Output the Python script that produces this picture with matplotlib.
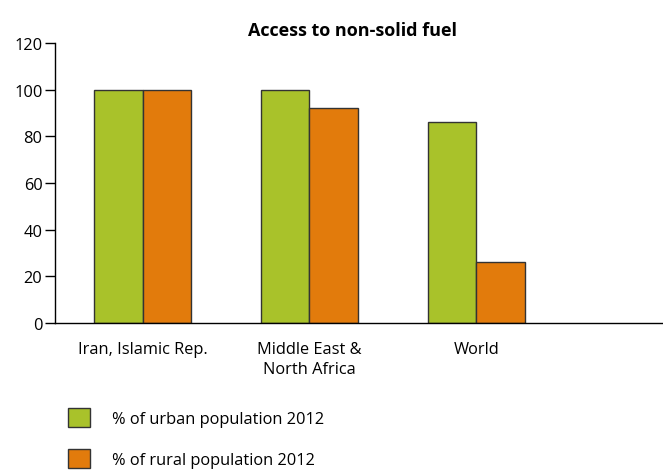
import numpy as np
import matplotlib.pyplot as plt
from matplotlib.patches import Patch

plt.rcParams['font.family'] = ['Open Sans', 'DejaVu Sans']

regions = ["Iran, Islamic Rep.", "Middle East &\nNorth Africa", "World"]
urban = [100, 100, 86]
rural = [100, 92, 26]
series_names = ["% of urban population 2012", "% of rural population 2012"]
yticks = [0, 20, 40, 60, 80, 100, 120]

green = "#a9c22a"
orange = "#e27b0c"
edge = "#333333"

fig = plt.figure(figsize=(6.63, 4.77), dpi=100)
ax = fig.add_axes([55 / 663, 1 - 324 / 477, 608 / 663, 280 / 477])

x = np.arange(len(regions))
w = 0.293
ax.bar(x - w / 2, urban, w, color=green, edgecolor=edge, linewidth=1)
ax.bar(x + w / 2, rural, w, color=orange, edgecolor=edge, linewidth=1)

ax.set_ylim(0, 120)
ax.set_xlim(-0.524, 3.117)
ax.set_yticks(yticks)
ax.set_xticks(x)
ax.set_xticklabels(regions, fontsize=11.8, linespacing=1.3)
ax.tick_params(axis='x', length=0, pad=13)
ax.tick_params(axis='y', length=7, width=1, labelsize=11.8, pad=2)
for s in ['top', 'right']:
    ax.spines[s].set_visible(False)
for s in ['left', 'bottom']:
    ax.spines[s].set_linewidth(1)

fig.text(352 / 663, 1 - 31 / 477, "Access to non-solid fuel", ha='center', va='center',
         fontsize=13, fontweight='bold')

handles = [Patch(facecolor=green, edgecolor=edge, linewidth=1),
           Patch(facecolor=orange, edgecolor=edge, linewidth=1)]
fig.legend(handles, series_names, loc='upper left', bbox_to_anchor=(68 / 663, 1 - 409 / 477),
           frameon=False, fontsize=11.8, handlelength=1.32, handleheight=1.4,
           labelspacing=1.35, handletextpad=1.38, borderaxespad=0, borderpad=0)

fig.savefig("out.png", dpi=100)
